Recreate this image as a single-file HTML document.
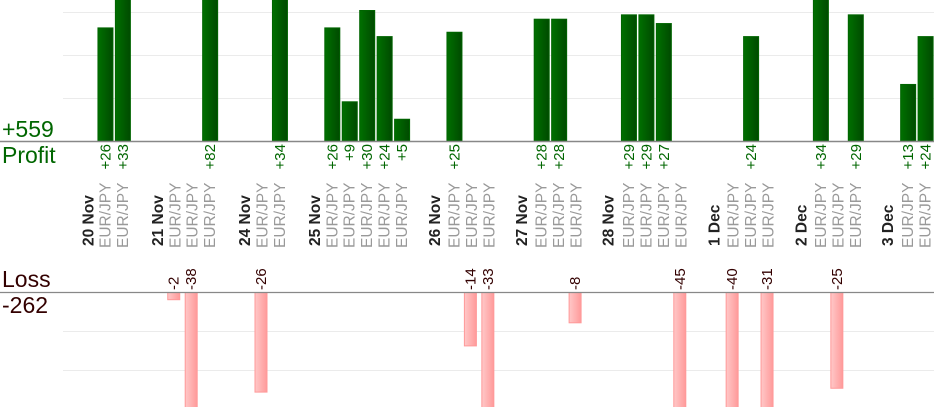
<!DOCTYPE html>
<html><head><meta charset="utf-8"><style>
html,body{margin:0;padding:0;background:#fff;}
svg{display:block;font-family:"Liberation Sans",Arial,sans-serif;}
</style></head><body>
<svg width="934" height="420" viewBox="0 0 934 420" xmlns="http://www.w3.org/2000/svg">
<defs>
<linearGradient id="g" x1="0" x2="1" y1="0" y2="0"><stop offset="0" stop-color="#007000"/><stop offset="1" stop-color="#004a00"/></linearGradient>
<linearGradient id="r" x1="0" x2="1" y1="0" y2="0"><stop offset="0" stop-color="#ffc8c8"/><stop offset="1" stop-color="#ff9a9a"/></linearGradient>
<clipPath id="cp"><rect x="0" y="0" width="934" height="141"/></clipPath>
<clipPath id="cl"><rect x="0" y="292" width="934" height="115"/></clipPath>
</defs>
<g stroke="#ebebeb" stroke-width="1">
<line x1="63" x2="934" y1="12.5" y2="12.5"/><line x1="63" x2="934" y1="55.5" y2="55.5"/><line x1="63" x2="934" y1="98.5" y2="98.5"/>
<line x1="63" x2="934" y1="331.5" y2="331.5"/><line x1="63" x2="934" y1="370.5" y2="370.5"/>
</g>
<g clip-path="url(#cp)" fill="url(#g)" stroke="#006400" stroke-width="1">
<rect x="97.95" y="27.9" width="15" height="113.1"/>
<rect x="115.4" y="-3" width="15" height="144"/>
<rect x="202.65" y="-3" width="15" height="144"/>
<rect x="272.45" y="-3" width="15" height="144"/>
<rect x="324.8" y="27.9" width="15" height="113.1"/>
<rect x="342.25" y="101.8" width="15" height="39.2"/>
<rect x="359.7" y="10.5" width="15" height="130.5"/>
<rect x="377.15" y="36.6" width="15" height="104.4"/>
<rect x="394.6" y="119.25" width="15" height="21.75"/>
<rect x="446.95" y="32.25" width="15" height="108.75"/>
<rect x="534.2" y="19.2" width="15" height="121.8"/>
<rect x="551.65" y="19.2" width="15" height="121.8"/>
<rect x="621.45" y="14.85" width="15" height="126.15"/>
<rect x="638.9" y="14.85" width="15" height="126.15"/>
<rect x="656.35" y="23.55" width="15" height="117.45"/>
<rect x="743.6" y="36.6" width="15" height="104.4"/>
<rect x="813.4" y="-3" width="15" height="144"/>
<rect x="848.3" y="14.85" width="15" height="126.15"/>
<rect x="900.65" y="84.45" width="15" height="56.55"/>
<rect x="918.1" y="36.6" width="15" height="104.4"/>
</g>
<g clip-path="url(#cl)" fill="url(#r)" stroke="#ff9999" stroke-width="1">
<rect x="167.75" y="292" width="12" height="7.7"/>
<rect x="185.2" y="292" width="12" height="118"/>
<rect x="255" y="292" width="12" height="100.1"/>
<rect x="464.4" y="292" width="12" height="53.9"/>
<rect x="481.85" y="292" width="12" height="118"/>
<rect x="569.1" y="292" width="12" height="30.8"/>
<rect x="673.8" y="292" width="12" height="118"/>
<rect x="726.15" y="292" width="12" height="118"/>
<rect x="761.05" y="292" width="12" height="118"/>
<rect x="830.85" y="292" width="12" height="96.25"/>
</g>
<line x1="0" x2="934" y1="141.5" y2="141.5" stroke="#888" stroke-width="1.5"/>
<line x1="0" x2="934" y1="292.5" y2="292.5" stroke="#888" stroke-width="1.2"/>
<text x="2" y="137" font-size="23" fill="#006600">+559</text>
<text x="2" y="163" font-size="23" fill="#006600">Profit</text>
<text x="2" y="287" font-size="23" fill="#330000">Loss</text>
<text x="2" y="313" font-size="23" fill="#330000">-262</text>
<g font-size="15" fill="#006600" text-anchor="end">
<text transform="translate(110.5,144) rotate(-90)">+26</text>
<text transform="translate(127.9,144) rotate(-90)">+33</text>
<text transform="translate(215.1,144) rotate(-90)">+82</text>
<text transform="translate(284.9,144) rotate(-90)">+34</text>
<text transform="translate(337.3,144) rotate(-90)">+26</text>
<text transform="translate(354.7,144) rotate(-90)">+9</text>
<text transform="translate(372.2,144) rotate(-90)">+30</text>
<text transform="translate(389.6,144) rotate(-90)">+24</text>
<text transform="translate(407.1,144) rotate(-90)">+5</text>
<text transform="translate(459.4,144) rotate(-90)">+25</text>
<text transform="translate(546.7,144) rotate(-90)">+28</text>
<text transform="translate(564.1,144) rotate(-90)">+28</text>
<text transform="translate(633.9,144) rotate(-90)">+29</text>
<text transform="translate(651.4,144) rotate(-90)">+29</text>
<text transform="translate(668.8,144) rotate(-90)">+27</text>
<text transform="translate(756.1,144) rotate(-90)">+24</text>
<text transform="translate(825.9,144) rotate(-90)">+34</text>
<text transform="translate(860.8,144) rotate(-90)">+29</text>
<text transform="translate(913.1,144) rotate(-90)">+13</text>
<text transform="translate(930.6,144) rotate(-90)">+24</text>
</g>
<g font-size="15" fill="#330000" text-anchor="start">
<text transform="translate(178.7,290) rotate(-90)">-2</text>
<text transform="translate(196.2,290) rotate(-90)">-38</text>
<text transform="translate(266,290) rotate(-90)">-26</text>
<text transform="translate(475.4,290) rotate(-90)">-14</text>
<text transform="translate(492.8,290) rotate(-90)">-33</text>
<text transform="translate(580.1,290) rotate(-90)">-8</text>
<text transform="translate(684.8,290) rotate(-90)">-45</text>
<text transform="translate(737.1,290) rotate(-90)">-40</text>
<text transform="translate(772,290) rotate(-90)">-31</text>
<text transform="translate(841.8,290) rotate(-90)">-25</text>
</g>
<g font-size="15.5" font-weight="bold" fill="#222">
<text transform="translate(93.5,246) rotate(-90)">20 Nov</text>
<text transform="translate(162.8,246) rotate(-90)">21 Nov</text>
<text transform="translate(250.1,246) rotate(-90)">24 Nov</text>
<text transform="translate(319.9,246) rotate(-90)">25 Nov</text>
<text transform="translate(440,246) rotate(-90)">26 Nov</text>
<text transform="translate(527.2,246) rotate(-90)">27 Nov</text>
<text transform="translate(613.5,246) rotate(-90)">28 Nov</text>
<text transform="translate(719.5,246) rotate(-90)">1 Dec</text>
<text transform="translate(806.5,246) rotate(-90)">2 Dec</text>
<text transform="translate(893,246) rotate(-90)">3 Dec</text>
</g>
<g font-size="15.5" fill="#999">
<text transform="translate(110.5,248) rotate(-90)">EUR/JPY</text>
<text transform="translate(127.9,248) rotate(-90)">EUR/JPY</text>
<text transform="translate(180.3,248) rotate(-90)">EUR/JPY</text>
<text transform="translate(197.7,248) rotate(-90)">EUR/JPY</text>
<text transform="translate(215.1,248) rotate(-90)">EUR/JPY</text>
<text transform="translate(267.5,248) rotate(-90)">EUR/JPY</text>
<text transform="translate(284.9,248) rotate(-90)">EUR/JPY</text>
<text transform="translate(337.3,248) rotate(-90)">EUR/JPY</text>
<text transform="translate(354.7,248) rotate(-90)">EUR/JPY</text>
<text transform="translate(372.2,248) rotate(-90)">EUR/JPY</text>
<text transform="translate(389.6,248) rotate(-90)">EUR/JPY</text>
<text transform="translate(407.1,248) rotate(-90)">EUR/JPY</text>
<text transform="translate(459.4,248) rotate(-90)">EUR/JPY</text>
<text transform="translate(476.9,248) rotate(-90)">EUR/JPY</text>
<text transform="translate(494.3,248) rotate(-90)">EUR/JPY</text>
<text transform="translate(546.7,248) rotate(-90)">EUR/JPY</text>
<text transform="translate(564.1,248) rotate(-90)">EUR/JPY</text>
<text transform="translate(581.6,248) rotate(-90)">EUR/JPY</text>
<text transform="translate(633.9,248) rotate(-90)">EUR/JPY</text>
<text transform="translate(651.4,248) rotate(-90)">EUR/JPY</text>
<text transform="translate(668.8,248) rotate(-90)">EUR/JPY</text>
<text transform="translate(686.3,248) rotate(-90)">EUR/JPY</text>
<text transform="translate(738.6,248) rotate(-90)">EUR/JPY</text>
<text transform="translate(756.1,248) rotate(-90)">EUR/JPY</text>
<text transform="translate(773.5,248) rotate(-90)">EUR/JPY</text>
<text transform="translate(825.9,248) rotate(-90)">EUR/JPY</text>
<text transform="translate(843.3,248) rotate(-90)">EUR/JPY</text>
<text transform="translate(860.8,248) rotate(-90)">EUR/JPY</text>
<text transform="translate(913.1,248) rotate(-90)">EUR/JPY</text>
<text transform="translate(930.6,248) rotate(-90)">EUR/JPY</text>
</g>
</svg>
</body></html>
